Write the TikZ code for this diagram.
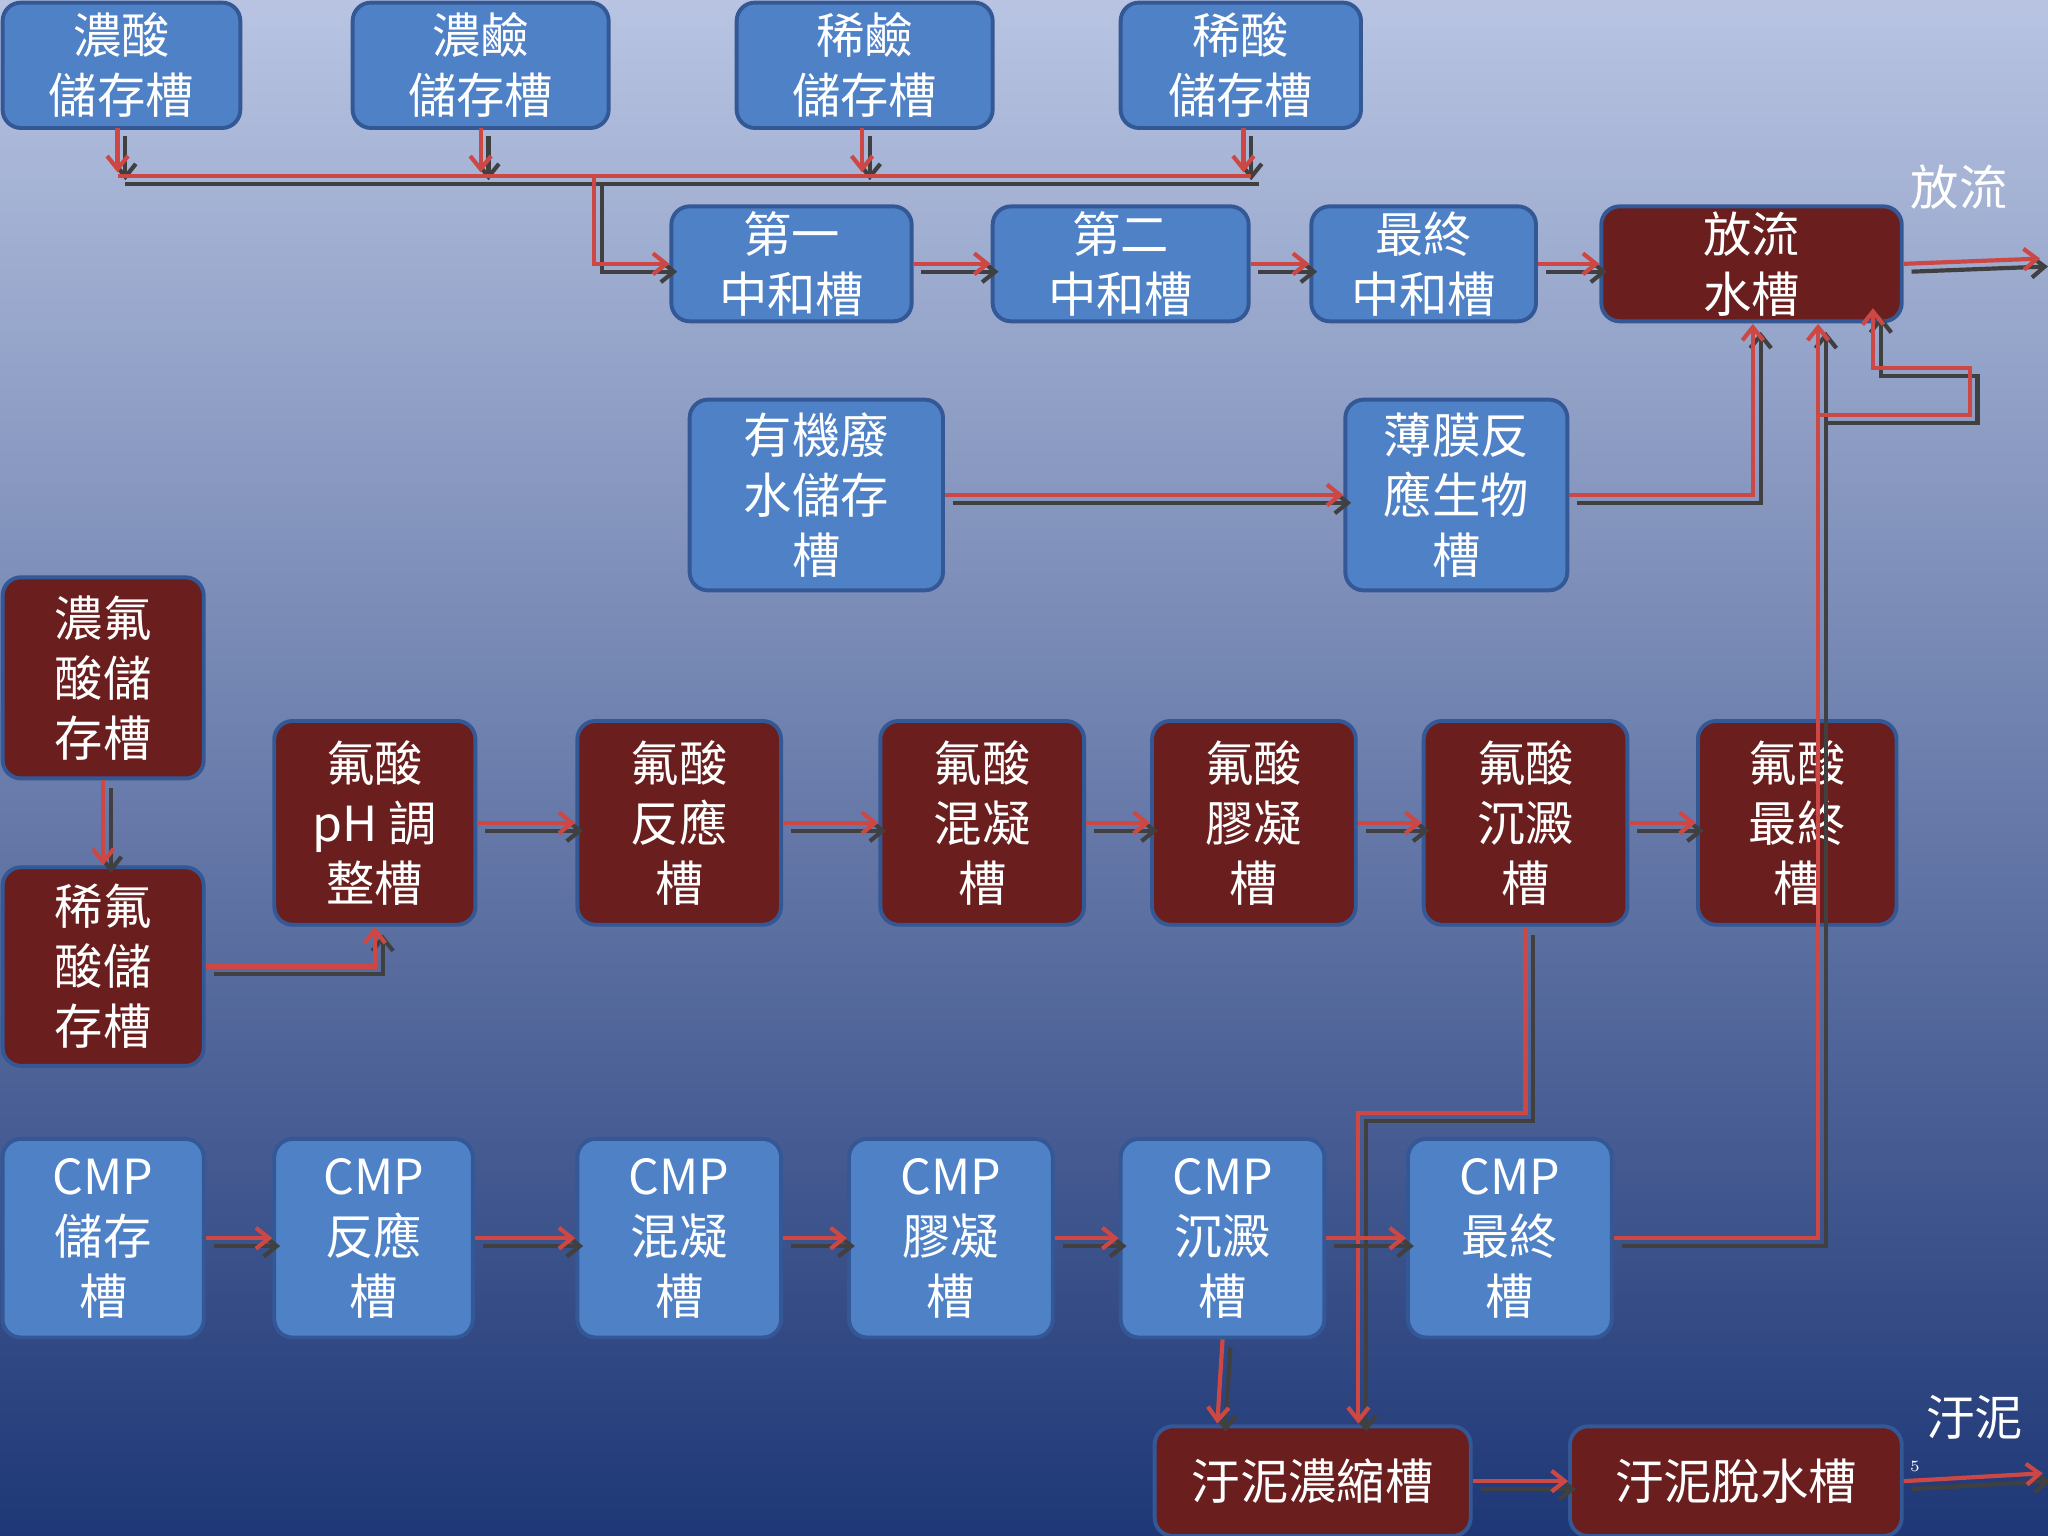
\documentclass[tikz,border=0pt]{standalone}
\usepackage{fontspec}
\newfontfamily\cjk{Noto Sans CJK TC}
\usetikzlibrary{arrows.meta}
\definecolor{tankblue}{RGB}{79,129,199}
\definecolor{tankedge}{RGB}{52,88,150}
\definecolor{tankred}{RGB}{106,30,30}
\definecolor{flowred}{RGB}{205,72,68}
\tikzset{
  tank/.style={draw=tankedge,line width=1.5pt,rounded corners=7pt,fill=tankblue,text=white,
    font=\cjk\fontsize{18.5}{23}\selectfont,align=center,inner sep=0pt},
  redtank/.style={tank,fill=tankred},
  flow/.style={draw=flowred,line width=1.6pt,-{Straight Barb[length=5pt,width=8pt]},
    preaction={draw=black!75,line width=1.6pt,transform canvas={shift={(3pt,-3pt)}}}},
  lab/.style={text=white,font=\cjk\fontsize{18.5}{20}\selectfont}
}
\begin{document}
\begin{tikzpicture}[x=0.5pt,y=0.5pt,yscale=-1]
	\shade[top color={rgb,255:red,184;green,196;blue,226},bottom color={rgb,255:red,30;green,55;blue,118}] (0,0) rectangle (1568,1176);
	\useasboundingbox (0,0) rectangle (1568,1176);

	% storage tanks
	\node[tank,minimum width=91pt,minimum height=48pt] (acidC) at (93,50) {濃酸\\儲存槽};
	\node[tank,minimum width=98pt,minimum height=48pt] (baseC) at (368,50) {濃鹼\\儲存槽};
	\node[tank,minimum width=98pt,minimum height=48pt] (baseD) at (662,50) {稀鹼\\儲存槽};
	\node[tank,minimum width=92pt,minimum height=48pt] (acidD) at (950,50) {稀酸\\儲存槽};
	% neutralisation
	\node[tank,minimum width=92pt,minimum height=44pt] (neu1) at (606,202) {第一\\中和槽};
	\node[tank,minimum width=98pt,minimum height=44pt] (neu2) at (858,202) {第二\\中和槽};
	\node[tank,minimum width=86pt,minimum height=44pt] (neu3) at (1090,202) {最終\\中和槽};
	\node[redtank,minimum width=115pt,minimum height=44pt] (outT) at (1341,202) {放流\\水槽};
	% organic
	\node[tank,minimum width=97pt,minimum height=73pt] (org) at (625,379) {有機廢\\水儲存\\槽};
	\node[tank,minimum width=85pt,minimum height=73pt] (mbr) at (1115,379) {薄膜反\\應生物\\槽};
	% fluoride
	\node[redtank,minimum width=77pt,minimum height=77pt] (hfC) at (79,519) {濃氟\\酸儲\\存槽};
	\node[redtank,minimum width=77pt,minimum height=76pt] (hfD) at (79,740) {稀氟\\酸儲\\存槽};
	\node[redtank,minimum width=77pt,minimum height=78pt] (hf1) at (287,630) {氟酸\\pH 調\\整槽};
	\node[redtank,minimum width=78pt,minimum height=78pt] (hf2) at (520,630) {氟酸\\反應\\槽};
	\node[redtank,minimum width=78pt,minimum height=78pt] (hf3) at (752,630) {氟酸\\混凝\\槽};
	\node[redtank,minimum width=78pt,minimum height=78pt] (hf4) at (960,630) {氟酸\\膠凝\\槽};
	\node[redtank,minimum width=78pt,minimum height=78pt] (hf5) at (1168,630) {氟酸\\沉澱\\槽};
	\node[redtank,minimum width=76pt,minimum height=78pt] (hf6) at (1376,630) {氟酸\\最終\\槽};
	% CMP
	\node[tank,minimum width=77pt,minimum height=76pt] (cmp0) at (79,948) {CMP\\儲存\\槽};
	\node[tank,minimum width=76pt,minimum height=76pt] (cmp1) at (286,948) {CMP\\反應\\槽};
	\node[tank,minimum width=78pt,minimum height=76pt] (cmp2) at (520,948) {CMP\\混凝\\槽};
	\node[tank,minimum width=78pt,minimum height=76pt] (cmp3) at (728,948) {CMP\\膠凝\\槽};
	\node[tank,minimum width=78pt,minimum height=76pt] (cmp4) at (936,948) {CMP\\沉澱\\槽};
	\node[tank,minimum width=78pt,minimum height=76pt] (cmp5) at (1156,948) {CMP\\最終\\槽};
	% sludge
	\node[redtank,minimum width=121pt,minimum height=42pt] (sl1) at (1005,1134) {汙泥濃縮槽};
	\node[redtank,minimum width=127pt,minimum height=42pt] (sl2) at (1329,1134) {汙泥脫水槽};

	\node[lab] (lOut) at (1500,143) {放流};
	\node[lab] (lSl) at (1512,1085) {汙泥};
	\node[text=white,font=\fontsize{6}{7}\selectfont] (pg) at (1466,1123) {5};
	\coordinate (outEnd) at (1562,198);
	\coordinate (slEnd) at (1564,1128);

	% acid/base manifold
	\foreach \t/\x in {acidC/90,baseC/368,baseD/660,acidD/952}
		\draw[flow] (\x,98) -- (\x,132);
	\draw[flow,-] (90,135) -- (958,135);
	\draw[flow] (455,135) |- (neu1.west);
	\draw[flow] (neu1) -- (neu2);
	\draw[flow] (neu2) -- (neu3);
	\draw[flow] (neu3) -- (outT);
	\draw[flow] (outT.east) -- (outEnd);
	\draw[flow] (org) -- (mbr);
	\draw[flow] (mbr.east) -| (1342,248);
	\draw[flow] (cmp5.east) -| (1392,248);
	\draw[flow] (1392,318) -| (1508,282) -| (1434,236);

	% fluoride line
	\draw[flow] (hfC) -- (hfD);
	\draw[flow] (hfD.east) -| (hf1.south);
	\draw[flow] (hf1) -- (hf2);
	\draw[flow] (hf2) -- (hf3);
	\draw[flow] (hf3) -- (hf4);
	\draw[flow] (hf4) -- (hf5);
	\draw[flow] (hf5) -- (hf6);
	\draw[flow] (hf5.south) -- (1168,852) -| (1040,1090);

	% CMP line
	\draw[flow] (cmp0) -- (cmp1);
	\draw[flow] (cmp1) -- (cmp2);
	\draw[flow] (cmp2) -- (cmp3);
	\draw[flow] (cmp3) -- (cmp4);
	\draw[flow] (cmp4) -- (cmp5);
	\draw[flow] (cmp4.south) -- (932,1090);
	\draw[flow] (sl1) -- (sl2);
	\draw[flow] (sl2.east) -- (slEnd);
\end{tikzpicture}
\end{document}
